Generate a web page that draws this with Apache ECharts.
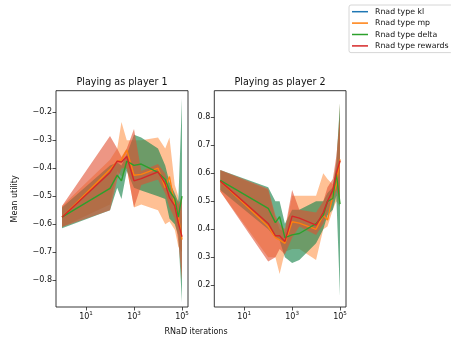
<!DOCTYPE html>
<html>
<head>
<meta charset="utf-8">
<script src="https://cdn.jsdelivr.net/npm/echarts@6/dist/echarts.min.js"></script>
<style>
  html, body { margin: 0; padding: 0; background: #fff; }
  #chart { width: 451px; height: 342px; }
</style>
</head>
<body>
<div id="chart"></div>
<script>
// RNaD iterations at which every run was evaluated
const iterations = [1, 100, 200, 300, 500, 1000, 2000, 10000, 20000, 30000, 50000, 70000, 100000];

// Playing as player 1: mean utility and band (low / high) per rnad type
const p1MpMean      = [-0.575, -0.405, -0.375, -0.370, -0.335, -0.425, -0.422, -0.400, -0.470, -0.430, -0.530, -0.570, -0.655];
const p1MpLow       = [-0.610, -0.530, -0.410, -0.430, -0.400, -0.540, -0.530, -0.550, -0.600, -0.590, -0.620, -0.680, -0.700];
const p1MpHigh      = [-0.535, -0.370, -0.330, -0.235, -0.300, -0.300, -0.300, -0.290, -0.330, -0.290, -0.460, -0.500, -0.580];
const p1DeltaMean   = [-0.575, -0.472, -0.425, -0.445, -0.375, -0.390, -0.385, -0.415, -0.440, -0.480, -0.510, -0.575, -0.500];
const p1DeltaLow    = [-0.615, -0.550, -0.470, -0.510, -0.410, -0.470, -0.480, -0.500, -0.510, -0.580, -0.600, -0.640, -0.880];
const p1DeltaHigh   = [-0.540, -0.390, -0.380, -0.390, -0.350, -0.280, -0.290, -0.330, -0.390, -0.450, -0.490, -0.520, -0.150];
const p1RewardsMean = [-0.575, -0.415, -0.375, -0.378, -0.358, -0.445, -0.437, -0.413, -0.455, -0.505, -0.535, -0.595, -0.645];
const p1RewardsLow  = [-0.610, -0.550, -0.440, -0.400, -0.400, -0.540, -0.460, -0.440, -0.490, -0.540, -0.580, -0.660, -0.800];
const p1RewardsHigh = [-0.535, -0.285, -0.330, -0.360, -0.330, -0.260, -0.410, -0.385, -0.420, -0.470, -0.500, -0.530, -0.500];

// Playing as player 2
const p2MpMean      = [0.572, 0.410, 0.370, 0.362, 0.350, 0.427, 0.422, 0.400, 0.450, 0.433, 0.520, 0.560, 0.650];
const p2MpLow       = [0.535, 0.300, 0.300, 0.240, 0.320, 0.330, 0.330, 0.290, 0.400, 0.410, 0.470, 0.500, 0.480];
const p2MpHigh      = [0.610, 0.540, 0.440, 0.400, 0.390, 0.520, 0.520, 0.520, 0.600, 0.580, 0.560, 0.620, 0.850];
const p2DeltaMean   = [0.575, 0.475, 0.424, 0.445, 0.370, 0.380, 0.385, 0.420, 0.450, 0.500, 0.510, 0.600, 0.490];
const p2DeltaLow    = [0.540, 0.400, 0.370, 0.360, 0.300, 0.280, 0.290, 0.350, 0.400, 0.450, 0.470, 0.520, 0.160];
const p2DeltaHigh   = [0.612, 0.550, 0.500, 0.500, 0.420, 0.470, 0.470, 0.500, 0.500, 0.530, 0.550, 0.640, 0.850];
const p2RewardsMean = [0.572, 0.421, 0.377, 0.377, 0.356, 0.447, 0.440, 0.415, 0.460, 0.500, 0.540, 0.600, 0.645];
const p2RewardsLow  = [0.535, 0.285, 0.300, 0.330, 0.310, 0.370, 0.410, 0.380, 0.420, 0.460, 0.500, 0.540, 0.500];
const p2RewardsHigh = [0.612, 0.545, 0.450, 0.420, 0.400, 0.540, 0.470, 0.460, 0.500, 0.550, 0.580, 0.660, 0.800];

// Tick labels
const xTicks = [10, 1000, 100000];
const p1YTicks = [-0.8, -0.7, -0.6, -0.5, -0.4, -0.3, -0.2];
const p2YTicks = [0.2, 0.3, 0.4, 0.5, 0.6, 0.7, 0.8];

const seriesNames = ['Rnad type kl', 'Rnad type mp', 'Rnad type delta', 'Rnad type rewards'];
const lineColors = { kl: '#1f77b4', mp: '#ff7f0e', delta: '#2ca02c', rewards: '#d62728' };
const bandColors = { mp: 'rgb(255,140,60)', delta: 'rgb(30,135,80)', rewards: 'rgb(225,80,50)' };
const bandOpacity = { mp: 0.55, delta: 0.65, rewards: 0.6 };

const FONT = 'DejaVu Sans';
const TEXT = '#111';

function pairs(ys) { return iterations.map((x, i) => [x, ys[i]]); }

// A shaded band between low and high, drawn as one polygon through the axis scales
function band(key, idx, low, high) {
  return {
    type: 'custom', xAxisIndex: idx, yAxisIndex: idx, silent: true, z: 1,
    data: iterations.map((x, i) => [x, low[i], high[i]]),
    encode: { x: 0, y: [1, 2] },
    clip: true,
    renderItem(params, api) {
      if (params.dataIndexInside !== 0) return null;
      const n = params.dataInsideLength;
      const top = [], bottom = [];
      for (let i = 0; i < n; i++) {
        const x = api.value(0, i);
        top.push(api.coord([x, api.value(2, i)]));
        bottom.push(api.coord([x, api.value(1, i)]));
      }
      return {
        type: 'polygon',
        shape: { points: top.concat(bottom.reverse()) },
        style: { fill: bandColors[key], opacity: bandOpacity[key] }
      };
    }
  };
}

function meanLine(name, key, idx, ys) {
  return {
    type: 'line', name, xAxisIndex: idx, yAxisIndex: idx,
    data: ys ? pairs(ys) : [], symbol: 'none', color: lineColors[key],
    lineStyle: { width: 1.4, color: lineColors[key] }, z: 3
  };
}

function xAxis(idx) {
  return {
    type: 'log', logBase: 10, gridIndex: idx,
    min: Math.pow(10, -0.25), max: Math.pow(10, 5.25),
    axisLine: { show: false },
    splitLine: { show: false },
    axisTick: { customValues: xTicks, length: 3.5, lineStyle: { color: '#222', width: 0.8 } },
    axisLabel: {
      customValues: xTicks, margin: 4,
      formatter: v => '{b|10}{s|' + Math.round(Math.log10(v)) + '}',
      rich: {
        b: { fontSize: 8, color: TEXT, fontFamily: FONT },
        s: { fontSize: 5.6, color: TEXT, fontFamily: FONT, padding: [0, 0, 5, 0] }
      }
    }
  };
}

function fmtY(v) {
  const s = Math.abs(v).toFixed(1);
  return v < 0 ? '\u2212' + s : s;
}

function yAxis(idx, min, max, ticks, name) {
  return {
    type: 'value', gridIndex: idx, min, max,
    name, nameLocation: 'middle', nameGap: 37,
    nameTextStyle: { fontSize: 8, color: TEXT, fontFamily: FONT },
    axisLine: { show: false },
    splitLine: { show: false },
    axisTick: { customValues: ticks, length: 3.5, lineStyle: { color: '#222', width: 0.8 } },
    axisLabel: { customValues: ticks, formatter: fmtY, fontSize: 8, color: TEXT, fontFamily: FONT, margin: 4 }
  };
}

const grids = [
  { left: 56, top: 90.7, width: 132, height: 216.3, show: true, borderColor: '#222', borderWidth: 0.9, backgroundColor: 'transparent' },
  { left: 214.3, top: 90.7, width: 131.7, height: 216.3, show: true, borderColor: '#222', borderWidth: 0.9, backgroundColor: 'transparent' }
];

const series = [
  band('mp', 0, p1MpLow, p1MpHigh),
  band('delta', 0, p1DeltaLow, p1DeltaHigh),
  band('rewards', 0, p1RewardsLow, p1RewardsHigh),
  band('mp', 1, p2MpLow, p2MpHigh),
  band('delta', 1, p2DeltaLow, p2DeltaHigh),
  band('rewards', 1, p2RewardsLow, p2RewardsHigh),
  meanLine(seriesNames[0], 'kl', 0, null),
  meanLine(seriesNames[1], 'mp', 0, p1MpMean),
  meanLine(seriesNames[2], 'delta', 0, p1DeltaMean),
  meanLine(seriesNames[3], 'rewards', 0, p1RewardsMean),
  meanLine(seriesNames[0], 'kl', 1, null),
  meanLine(seriesNames[1], 'mp', 1, p2MpMean),
  meanLine(seriesNames[2], 'delta', 1, p2DeltaMean),
  meanLine(seriesNames[3], 'rewards', 1, p2RewardsMean)
];

const chart = echarts.init(document.getElementById('chart'), null, { renderer: 'canvas' });
chart.setOption({
  animation: false,
  backgroundColor: '#fff',
  textStyle: { fontFamily: FONT },
  title: [
    { text: 'Playing as player 1', left: 122, top: 77.5, textAlign: 'center', padding: 0,
      textStyle: { fontSize: 9.6, fontWeight: 'normal', color: TEXT, fontFamily: FONT } },
    { text: 'Playing as player 2', left: 280, top: 77.5, textAlign: 'center', padding: 0,
      textStyle: { fontSize: 9.6, fontWeight: 'normal', color: TEXT, fontFamily: FONT } }
  ],
  legend: {
    data: seriesNames, orient: 'vertical', left: 349, top: 5,
    icon: 'rect', itemWidth: 16, itemHeight: 1.5, itemGap: 2,
    selectedMode: false,
    padding: [2, 4, 2, 3],
    borderColor: '#ccc', borderWidth: 0.8, borderRadius: 2, backgroundColor: '#fff',
    textStyle: { fontSize: 7.8, color: TEXT, fontFamily: FONT, lineHeight: 9.4, padding: [0, 0, 0, 2] }
  },
  grid: grids,
  xAxis: [xAxis(0), xAxis(1)],
  yAxis: [
    yAxis(0, -0.896, -0.123, p1YTicks, 'Mean utility'),
    yAxis(1, 0.1225, 0.895, p2YTicks, '')
  ],
  graphic: [{
    type: 'text', x: 196, y: 332,
    style: { text: 'RNaD iterations', fontSize: 8, fill: TEXT, fontFamily: FONT, textAlign: 'center', textVerticalAlign: 'middle' }
  }],
  series
});
</script>
</body>
</html>
